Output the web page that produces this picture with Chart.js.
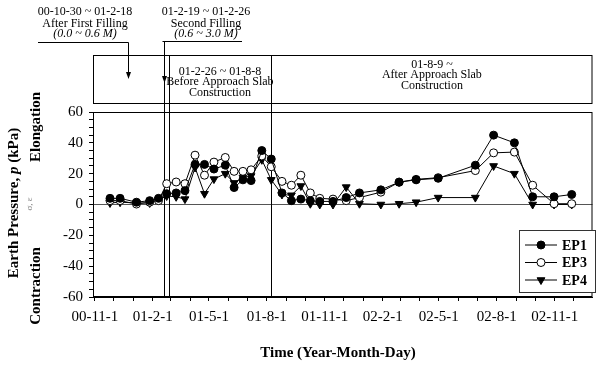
<!DOCTYPE html>
<html>
<head>
<meta charset="utf-8">
<script src="https://cdn.jsdelivr.net/npm/chart.js@4.4.1/dist/chart.umd.min.js"></script>
<style>
  html, body { margin: 0; padding: 0; background: #fff; }
  #wrap { width: 598px; height: 365px; }
</style>
</head>
<body>
<div id="wrap"><canvas id="ep" width="598" height="365"></canvas></div>
<script>
// measurement dates (yyyy-mm-dd) and earth pressures (kPa)
const dates = [
  '2000-11-25', '2000-12-11', '2001-01-06', '2001-01-27', '2001-02-10',
  '2001-02-23', '2001-03-10', '2001-03-24', '2001-04-09', '2001-04-24',
  '2001-05-09', '2001-05-27', '2001-06-10', '2001-06-24', '2001-07-07',
  '2001-07-24', '2001-08-08', '2001-08-25', '2001-09-09', '2001-09-24',
  '2001-10-09', '2001-10-24', '2001-11-14', '2001-12-05', '2001-12-26',
  '2002-01-29', '2002-02-27', '2002-03-26', '2002-04-30', '2002-06-28',
  '2002-07-27', '2002-08-29', '2002-09-27', '2002-10-31', '2002-11-28'
];
const ep1 = [4, 4, 1.5, 2.5, 4, 7, 7.5, 9, 26, 26, 23, 25.5, 11, 16, 15.5, 35, 29.5, 7.5, 2.5, 3.5,
  2.5, 2, 2, 4.5, 7.5, 9.5, 14.5, 16, 17, 25.5, 45, 40, 5, 5, 6.5];
const ep3 = [2.5, 2.5, 0.3, 1.5, 2.5, 13.5, 14.6, 13.5, 32, 19, 27.5, 30.5, 21.5, 21.5, 22.5, 31.5, 24.5, 15, 12.5, 19,
  7.5, 4, 3.5, 2.5, 4.5, 8, 14.5, 16.3, 17.4, 22, 33.5, 34, 12.5, 0.5, 0.5];
const ep4 = [1, 1.5, 1, 1, 3, 5.5, 5, 3.5, 24, 7, 16.5, 20, 14, 17.5, 18.5, 29, 16, 6.5, 6, 12,
  0.5, 0, 0, 11.3, 0.5, 0, 0.5, 1.5, 4.5, 4.5, 25, 20, 0, 0, 0];

const tickLabels = ['00-11-1', '01-2-1', '01-5-1', '01-8-1', '01-11-1', '02-2-1', '02-5-1', '02-8-1', '02-11-1'];
const yTicks = [-60, -40, -20, 0, 20, 40, 60];
const xStart = '2000-10-29';
const xEnd = '2002-12-31';

// stage boundaries and notes
const phaseLines = ['2001-02-19', '2001-02-26', '2001-08-08'];
const fillNotes = [
  { at: '2000-12-23', lines: ['00-10-30 ~ 01-2-18', 'After First Filling', '(0.0 ~ 0.6 M)'] },
  { at: '2001-02-19', lines: ['01-2-19 ~ 01-2-26', 'Second Filling', '(0.6 ~ 3.0 M)'] }
];
const stageNotes = [
  { from: '2001-02-26', to: '2001-08-08', lines: ['01-2-26 ~ 01-8-8', 'Before Approach Slab', 'Construction'] },
  { from: '2001-08-08', to: '2002-12-31', lines: ['01-8-9 ~', 'After Approach Slab', 'Construction'] }
];

const origin = Date.UTC(2000, 10, 1);
function dayOf(s) {
  const p = s.split('-').map(Number);
  return (Date.UTC(p[0], p[1] - 1, p[2]) - origin) / 86400000;
}
function tickDay(lbl) {
  const p = lbl.split('-').map(Number);
  return (Date.UTC(2000 + p[0], p[1] - 1, p[2]) - origin) / 86400000;
}
const majorDays = tickLabels.map(tickDay);

const FONT = "'Liberation Serif', 'Times New Roman', serif";

function series(vals) {
  return dates.map((d, i) => ({ x: dayOf(d), y: vals[i] }));
}

function arrowDown(ctx, x, y0, y1) {
  ctx.beginPath();
  ctx.moveTo(x, y0);
  ctx.lineTo(x, y1 - 6);
  ctx.stroke();
  ctx.beginPath();
  ctx.moveTo(x - 2.5, y1 - 7);
  ctx.lineTo(x + 2.5, y1 - 7);
  ctx.lineTo(x, y1);
  ctx.closePath();
  ctx.fill();
}

function rotatedText(ctx, parts, cx, cy) {
  // parts: [[text, font], ...] drawn centred, rotated -90deg
  ctx.save();
  ctx.translate(cx, cy);
  ctx.rotate(-Math.PI / 2);
  ctx.textAlign = 'left';
  let total = 0;
  const widths = parts.map(p => { ctx.font = p[1]; const w = ctx.measureText(p[0]).width; total += w; return w; });
  let sx = -total / 2;
  parts.forEach((p, i) => { ctx.font = p[1]; ctx.fillText(p[0], sx, 0); sx += widths[i]; });
  ctx.restore();
}

const decor = {
  id: 'decor',
  beforeDatasetsDraw(chart) {
    const { ctx, chartArea: a, scales: { x } } = chart;
    ctx.save();
    ctx.strokeStyle = '#000';
    ctx.lineWidth = 1;
    // stage boundary lines through panel and plot
    phaseLines.forEach(d => {
      const px = Math.round(x.getPixelForValue(dayOf(d))) + 0.5;
      ctx.beginPath();
      ctx.moveTo(px, 55);
      ctx.lineTo(px, a.bottom);
      ctx.stroke();
    });
    ctx.restore();
  },
  afterDraw(chart) {
    const { ctx, chartArea: a, scales: { x } } = chart;
    ctx.save();
    ctx.strokeStyle = '#000';
    ctx.fillStyle = '#000';
    ctx.lineWidth = 1;

    // plot frame
    ctx.strokeRect(a.left + 0.5, a.top + 0.5, a.right - a.left - 1, a.bottom - a.top - 1);
    // stage panel
    ctx.strokeRect(a.left + 0.5, 55.5, a.right - a.left - 1, 48);

    // stage panel text
    ctx.font = '12px ' + FONT;
    ctx.textAlign = 'center';
    ctx.textBaseline = 'middle';
    const ys = [[72, 82, 93], [65, 75, 86]];
    stageNotes.forEach((n, k) => {
      const cx = (x.getPixelForValue(dayOf(n.from)) + Math.min(a.right, x.getPixelForValue(dayOf(n.to)))) / 2;
      n.lines.forEach((t, i) => ctx.fillText(t, cx, ys[k][i]));
    });

    // filling notes with brackets and arrows
    fillNotes.forEach((n, k) => {
      const ax = Math.round(x.getPixelForValue(dayOf(n.at))) + 0.5;
      const lineY = k === 0 ? 42.5 : 41.5;
      const x0 = k === 0 ? 38 : ax - 2;
      const x1 = k === 0 ? ax : 242;
      ctx.beginPath();
      ctx.moveTo(x0, lineY);
      ctx.lineTo(x1, lineY);
      ctx.stroke();
      arrowDown(ctx, ax, lineY, k === 0 ? 79 : 83);
      const cx = k === 0 ? 85 : 206;
      ctx.font = '12px ' + FONT;
      ctx.fillText(n.lines[0], cx, 12);
      ctx.fillText(n.lines[1], cx, 24);
      ctx.font = 'italic 12px ' + FONT;
      ctx.fillText(n.lines[2], cx, 34);
    });

    // axis titles
    ctx.font = 'bold 15px ' + FONT;
    ctx.fillText('Time (Year-Month-Day)', 338, 353);
    const B = 'bold 15px ' + FONT;
    rotatedText(ctx, [['Earth Pressure, ', B], ['p', 'bold italic 15px ' + FONT], [' (kPa)', B]], 14, 203);
    rotatedText(ctx, [['Elongation', B]], 36, 127);
    rotatedText(ctx, [['Contraction', B]], 36, 286);
    ctx.fillStyle = '#888';
    rotatedText(ctx, [['\u03c3, \u03b5', '9px ' + FONT]], 30, 204);

    // legend
    const lx = 519, ly = 230, lw = 77, lh = 63;
    ctx.fillStyle = '#fff';
    ctx.fillRect(lx, ly, lw, lh);
    ctx.strokeStyle = '#333';
    ctx.strokeRect(lx + 0.5, ly + 0.5, lw - 1, lh - 1);
    ctx.strokeStyle = '#000';
    chart.data.datasets.forEach((ds, i) => {
      const yy = 245 + i * 17.5;
      ctx.beginPath();
      ctx.moveTo(525, yy);
      ctx.lineTo(557, yy);
      ctx.stroke();
      ctx.fillStyle = ds.pointBackgroundColor;
      Chart.helpers.drawPoint(ctx, {
        pointStyle: ds.pointStyle, rotation: ds.pointRotation || 0,
        radius: ds.pointRadius, borderWidth: 1
      }, 541, yy);
      ctx.fillStyle = '#000';
      ctx.font = 'bold 14px ' + FONT;
      ctx.textAlign = 'left';
      ctx.fillText(ds.label, 562, yy + 1);
    });
    ctx.restore();
  }
};

new Chart(document.getElementById('ep'), {
  type: 'line',
  data: {
    datasets: [
      { label: 'EP1', data: series(ep1), borderColor: '#000', borderWidth: 1,
        pointStyle: 'circle', pointRadius: 4, pointBackgroundColor: '#000', pointBorderColor: '#000' },
      { label: 'EP3', data: series(ep3), borderColor: '#000', borderWidth: 1,
        pointStyle: 'circle', pointRadius: 4, pointBackgroundColor: '#fff', pointBorderColor: '#000' },
      { label: 'EP4', data: series(ep4), borderColor: '#000', borderWidth: 1,
        pointStyle: 'triangle', pointRotation: 180, pointRadius: 4.5, pointBackgroundColor: '#000', pointBorderColor: '#000' }
    ]
  },
  options: {
    responsive: false,
    animation: false,
    layout: { padding: { top: 112, right: 2, left: 0, bottom: 0 } },
    plugins: { legend: { display: false }, tooltip: { enabled: false } },
    scales: {
      x: {
        type: 'linear',
        min: dayOf(xStart),
        max: dayOf(xEnd),
        afterFit: s => { s.height = 68; },
        afterBuildTicks: s => {
          const t = [];
          for (let y = 2000; y <= 2002; y++) {
            for (let m = 0; m < 12; m++) {
              const d = (Date.UTC(y, m, 1) - origin) / 86400000;
              if (d >= s.min && d <= s.max) t.push({ value: d });
            }
          }
          s.ticks = t;
        },
        ticks: {
          autoSkip: false,
          maxRotation: 0,
          padding: 7,
          color: '#000',
          font: { family: FONT, size: 15 },
          callback: v => {
            const k = majorDays.indexOf(v);
            return k >= 0 ? tickLabels[k] : '';
          }
        },
        grid: { drawOnChartArea: false, tickLength: 4, color: '#000' },
        border: { color: '#000' }
      },
      y: {
        min: -60,
        max: 60,
        afterFit: s => { s.width = 93; },
        afterBuildTicks: s => {
          const t = [];
          for (let v = -60; v <= 60; v += 5) t.push({ value: v });
          s.ticks = t;
        },
        ticks: {
          autoSkip: false,
          padding: 6,
          color: '#000',
          font: { family: FONT, size: 15 },
          callback: v => (yTicks.includes(v) ? String(v) : '')
        },
        grid: {
          tickLength: 4,
          color: c => (c.tick && c.tick.value === 0 ? '#555' : 'rgba(0,0,0,0)'),
          tickColor: '#000'
        },
        border: { color: '#000' }
      }
    }
  },
  plugins: [decor]
});
</script>
</body>
</html>
